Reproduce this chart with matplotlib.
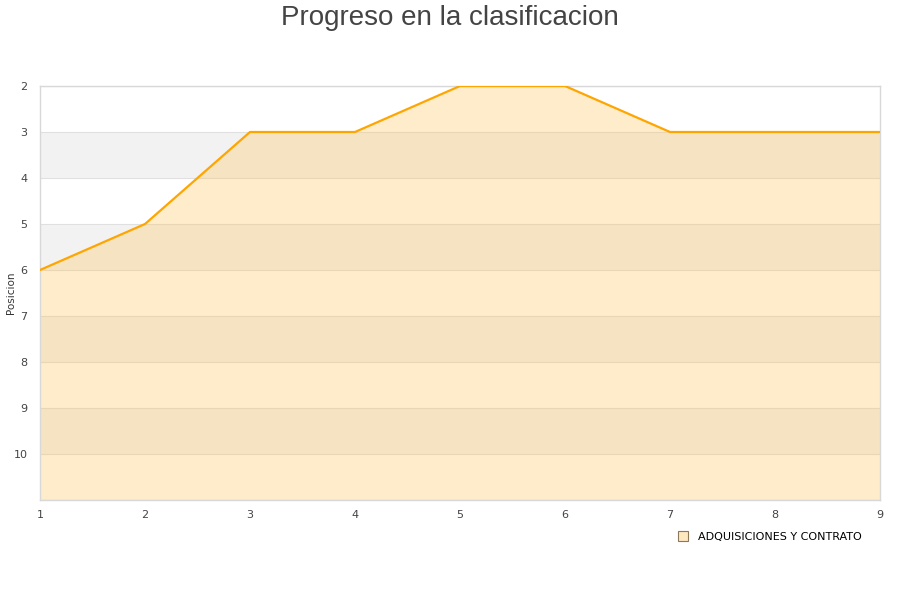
import numpy as np
import matplotlib
matplotlib.use("Agg")
import matplotlib.pyplot as plt
from matplotlib.lines import Line2D

# data
jornadas = [1, 2, 3, 4, 5, 6, 7, 8, 9]
posicion = [6, 5, 3, 3, 2, 2, 3, 3, 3]
y_ticks = [2, 3, 4, 5, 6, 7, 8, 9, 10]
serie = "ADQUISICIONES Y CONTRATO"

plt.rcParams['font.family'] = ['DejaVu Sans']

fig = plt.figure(figsize=(9, 6), dpi=100)
ax = fig.add_axes([40/900, 1-500/600, 840/900, 414/600])

ax.set_xlim(1, 9)
ax.set_ylim(11, 2)

# alternating bands
for y0 in [3, 5, 7, 9]:
    ax.axhspan(y0, y0 + 1, color='#f2f2f2', zorder=0, lw=0)
for y in range(2, 12):
    ax.axhline(y, color='#e0e0e0', lw=0.8, zorder=1)

ax.fill_between(jornadas, posicion, 11, color='#ffc254', alpha=0.31, lw=0, zorder=2)
ax.plot(jornadas, posicion, color='#ffa500', lw=1.6, zorder=3)

ax.set_yticks(y_ticks)
ax.set_xticks(jornadas)
ax.tick_params(length=0, labelsize=8, labelcolor='#444444')
ax.tick_params(axis='x', pad=7)
ax.tick_params(axis='y', pad=9)
for s in ax.spines.values():
    s.set_color('#d8d8d8')
    s.set_linewidth(1)

fig.text(11/900, 1-293/600, "Posicion", rotation=90, ha='center', va='center',
         fontsize=7.5, color='#333333')

fig.text(0.5, 1-18/600, "Progreso en la clasificacion", ha='center', va='center',
         fontsize=20, color='#444444', family=['Liberation Sans', 'DejaVu Sans'])

handle = Line2D([], [], marker='s', ls='none', markersize=7,
                markerfacecolor='#fde8c0', markeredgecolor='#8a7a5a', markeredgewidth=0.8)
fig.legend([handle], [serie], loc='center', bbox_to_anchor=(767/900, 1-537/600),
           frameon=False, fontsize=8, handletextpad=0.3)

fig.savefig("out.png", dpi=100)
